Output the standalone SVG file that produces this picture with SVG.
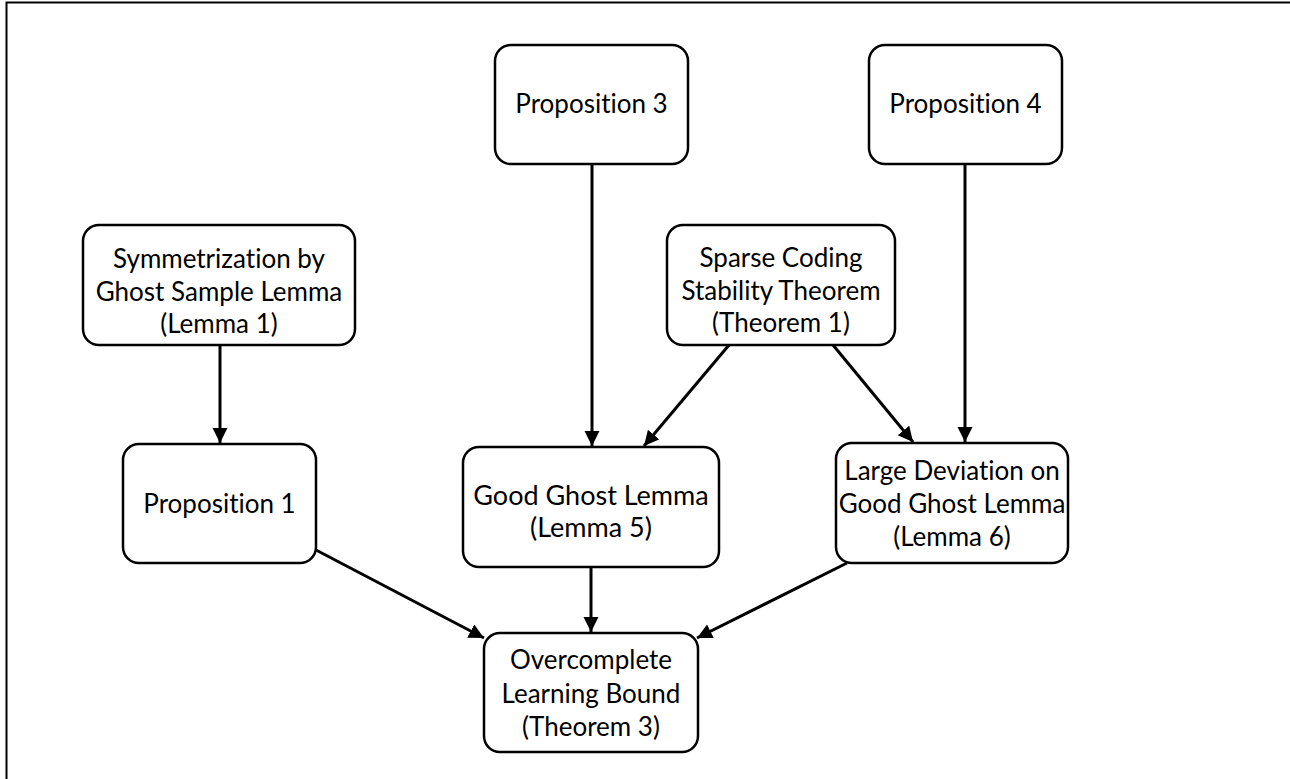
<svg xmlns="http://www.w3.org/2000/svg" width="1290" height="779" viewBox="0 0 1290 779">
<style>
.box{fill:#fff;stroke:#000;stroke-width:2.5}
.t{font-family:Lato,"Open Sans","Liberation Sans",sans-serif;font-size:26px;fill:#000;text-anchor:middle;font-variant-ligatures:none}
.e{stroke:#000;stroke-width:3;fill:none;marker-end:url(#ah)}
</style>
<defs>
<marker id="ah" markerUnits="userSpaceOnUse" markerWidth="16" markerHeight="16" refX="15" refY="7.5" orient="auto">
<path d="M0,0 L15,7.5 L0,15 z" fill="#000"/>
</marker>
</defs>
<rect x="0" y="0" width="1290" height="779" fill="#fff"/>
<path d="M6.5,779 L6.5,2.5 L1290,2.5" fill="none" stroke="#000" stroke-width="2"/>
<g id="connectors">
<line class="e" x1="220" y1="345" x2="220" y2="443"/>
<line class="e" x1="592" y1="164" x2="592" y2="446"/>
<line class="e" x1="729" y1="345" x2="644" y2="446"/>
<line class="e" x1="833" y1="345" x2="913" y2="442"/>
<line class="e" x1="965" y1="164" x2="965" y2="442"/>
<line class="e" x1="316" y1="550" x2="484" y2="638"/>
<line class="e" x1="591" y1="567" x2="591" y2="632"/>
<line class="e" x1="847" y1="563" x2="697" y2="638"/>
</g>
<g id="prop3"><rect class="box" x="495" y="45" width="193" height="119" rx="16"/><text class="t" x="591.5" y="113">Proposition 3</text></g>
<g id="prop4"><rect class="box" x="869" y="45" width="193" height="119" rx="16"/><text class="t" x="965.5" y="113">Proposition 4</text></g>
<g id="lemma1"><rect class="box" x="83" y="225" width="272" height="120" rx="16"/><text class="t" x="219" y="268">Symmetrization by</text><text class="t" x="219" y="301">Ghost Sample Lemma</text><text class="t" x="219" y="333">(Lemma 1)</text></g>
<g id="theorem1"><rect class="box" x="667" y="225" width="228" height="120" rx="16"/><text class="t" x="781" y="267">Sparse Coding</text><text class="t" x="781" y="300">Stability Theorem</text><text class="t" x="781" y="332">(Theorem 1)</text></g>
<g id="prop1"><rect class="box" x="123" y="444" width="193" height="119" rx="16"/><text class="t" x="219.5" y="513">Proposition 1</text></g>
<g id="lemma5"><rect class="box" x="463" y="447" width="256" height="120" rx="16"/><text class="t" x="591" y="505" style="font-size:27px">Good Ghost Lemma</text><text class="t" x="591" y="537" style="font-size:27px">(Lemma 5)</text></g>
<g id="lemma6"><rect class="box" x="836" y="443" width="232" height="120" rx="16"/><text class="t" x="952" y="480">Large Deviation on</text><text class="t" x="952" y="513">Good Ghost Lemma</text><text class="t" x="952" y="546">(Lemma 6)</text></g>
<g id="theorem3"><rect class="box" x="484" y="633" width="214" height="119" rx="16"/><text class="t" x="591" y="669">Overcomplete</text><text class="t" x="591" y="703">Learning Bound</text><text class="t" x="591" y="736">(Theorem 3)</text></g>
</svg>
